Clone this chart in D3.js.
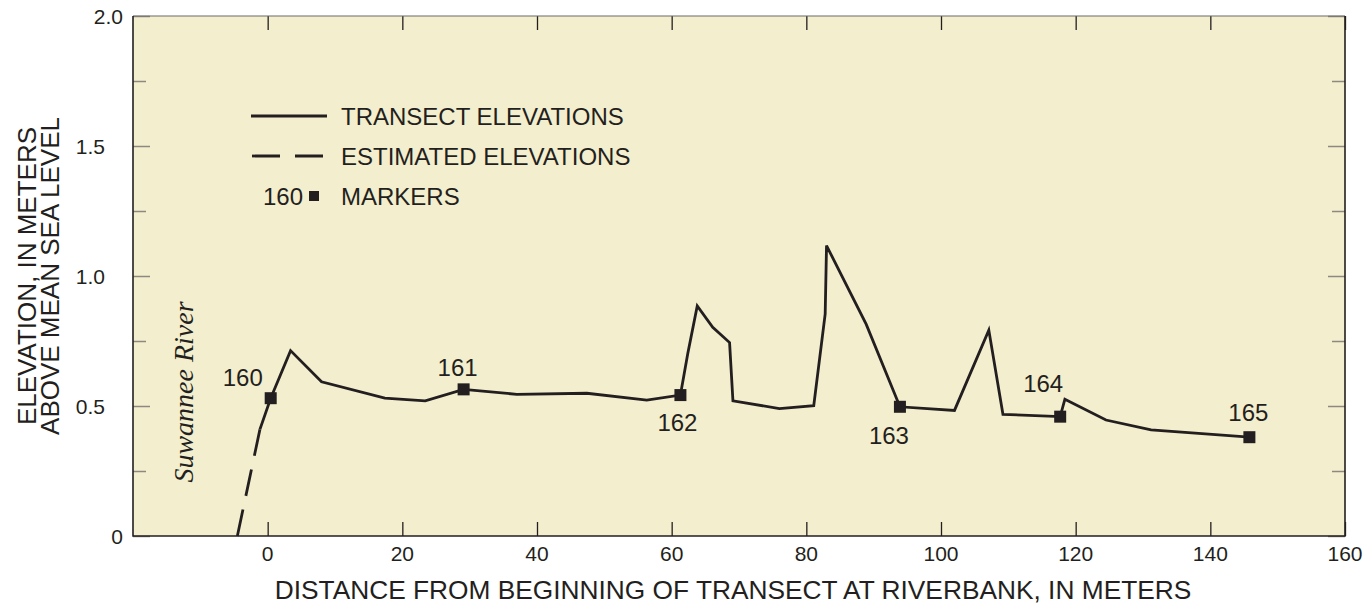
<!DOCTYPE html>
<html>
<head>
<meta charset="utf-8">
<script src="https://cdn.jsdelivr.net/npm/d3@7"></script>
<style>
  body { margin: 0; background: #fff; }
  text { font-family: "Liberation Sans", Arial, sans-serif; fill: #231f20; }
</style>
</head>
<body>
<div id="chart"></div>
<script>
// Data
const transectDistance = [-1.15, 0.45, 3.4, 8.0, 17.4, 23.4, 29.1, 37.0, 47.4, 56.3, 61.3, 62.4, 63.8, 66.1, 68.6, 69.1, 76.0, 81.1, 82.8, 83.0, 88.9, 93.9, 102.0, 107.1, 109.2, 117.7, 118.4, 124.5, 131.2, 145.8];
const transectElevation = [0.41, 0.53, 0.713, 0.593, 0.53, 0.52, 0.564, 0.545, 0.549, 0.523, 0.542, 0.703, 0.885, 0.803, 0.744, 0.52, 0.49, 0.501, 0.854, 1.117, 0.814, 0.497, 0.483, 0.792, 0.468, 0.459, 0.526, 0.446, 0.408, 0.38];

const estimatedDistance = [-4.5, -1.15];
const estimatedElevation = [0, 0.41];

const markerIds = ["160", "161", "162", "163", "164", "165"];
const markerDistance = [0.45, 29.1, 61.3, 93.9, 117.7, 145.8];
const markerElevation = [0.53, 0.564, 0.542, 0.497, 0.459, 0.38];

const xTicks = [0, 20, 40, 60, 80, 100, 120, 140, 160];
const yMajorTicks = [0, 0.5, 1.0, 1.5, 2.0];
const yMinorTicks = [0.25, 0.75, 1.25, 1.75];

// dimensions
const width = 1368;
const height = 606;
const margin = { top: 16, right: 23, bottom: 70, left: 133 };
const ink = "#231f20";

// label offsets around each marker (layout only)
const labelOffset = [[-28, -21], [-6, -22], [-3, 27], [-11, 29], [-17, -33], [-1, -25]];

const x = d3.scaleLinear().domain([-20, 160]).range([margin.left, width - margin.right]);
const y = d3.scaleLinear().domain([0, 2]).range([height - margin.bottom, margin.top]);

const svg = d3.select("#chart").append("svg")
  .attr("width", width)
  .attr("height", height);

// plot background
svg.append("rect")
  .attr("x", x(-20)).attr("y", y(2))
  .attr("width", x(160) - x(-20)).attr("height", y(0) - y(2))
  .attr("fill", "#f3eecd");

// ticks (inward, all four sides) via d3 axes
const tickColorY = "#8c8a80";
const axB = svg.append("g").attr("transform", `translate(0,${y(0)})`)
  .call(d3.axisTop(x).tickValues(xTicks).tickSize(14).tickFormat(""));
const axT = svg.append("g").attr("transform", `translate(0,${y(2)})`)
  .call(d3.axisBottom(x).tickValues(xTicks).tickSize(14).tickFormat(""));
const axL = svg.append("g").attr("transform", `translate(${x(-20)},0)`)
  .call(d3.axisRight(y).tickValues(yMajorTicks).tickSize(17).tickFormat(""));
const axLm = svg.append("g").attr("transform", `translate(${x(-20)},0)`)
  .call(d3.axisRight(y).tickValues(yMinorTicks).tickSize(13).tickFormat(""));
const axR = svg.append("g").attr("transform", `translate(${x(160)},0)`)
  .call(d3.axisLeft(y).tickValues(yMajorTicks).tickSize(17).tickFormat(""));
const axRm = svg.append("g").attr("transform", `translate(${x(160)},0)`)
  .call(d3.axisLeft(y).tickValues(yMinorTicks).tickSize(13).tickFormat(""));
[axB, axT, axL, axLm, axR, axRm].forEach(g => g.select(".domain").remove());
[axB, axT].forEach(g => g.selectAll(".tick line").attr("stroke", ink).attr("stroke-width", 1.3));
[axL, axLm, axR, axRm].forEach(g => g.selectAll(".tick line").attr("stroke", tickColorY).attr("stroke-width", 1.5));

// frame
svg.append("path")
  .attr("d", `M${x(-20)},${y(2)}H${x(160)}`)
  .attr("stroke", "#6d6b66").attr("stroke-width", 1.2).attr("fill", "none");
svg.append("path")
  .attr("d", `M${x(-20)},${y(2)}V${y(0)}H${x(160)}V${y(2)}`)
  .attr("stroke", ink).attr("stroke-width", 1.6).attr("fill", "none");

// tick labels
svg.append("g").selectAll("text")
  .data(xTicks)
  .join("text")
  .attr("x", d => x(d))
  .attr("y", y(0) + 25)
  .attr("text-anchor", "middle")
  .style("font-size", "21px")
  .text(d => d);

// end labels (0 and 2.0) sit closer to the frame than the inner ones
svg.append("g").selectAll("text")
  .data(yMajorTicks)
  .join("text")
  .attr("x", d => (d === 0 || d === 2) ? x(-20) - 10 : x(-20) - 28)
  .attr("y", d => y(d))
  .attr("dy", "0.36em")
  .attr("text-anchor", "end")
  .style("font-size", "21px")
  .text(d => d === 0 ? "0" : d.toFixed(1));

// axis titles
svg.append("text")
  .attr("x", 733)
  .attr("y", 599)
  .attr("text-anchor", "middle")
  .style("font-size", "26.3px")
  .text("DISTANCE FROM BEGINNING OF TRANSECT AT RIVERBANK, IN METERS");

const yTitle = svg.append("text")
  .attr("transform", `translate(0,${(y(0) + y(2)) / 2}) rotate(-90)`)
  .attr("text-anchor", "middle")
  .style("font-size", "26px");
yTitle.append("tspan").attr("x", 0).attr("y", 36).text("ELEVATION, IN METERS");
yTitle.append("tspan").attr("x", 0).attr("y", 59).text("ABOVE MEAN SEA LEVEL");

// river label
svg.append("text")
  .attr("transform", `translate(193,392) rotate(-90)`)
  .attr("text-anchor", "middle")
  .style("font-family", "'Liberation Serif', 'Times New Roman', serif")
  .style("font-style", "italic")
  .style("font-size", "28px")
  .text("Suwannee River");

// lines
const line = d3.line().x(d => x(d[0])).y(d => y(d[1]));

svg.append("path")
  .datum(d3.zip(estimatedDistance, estimatedElevation))
  .attr("d", line)
  .attr("fill", "none")
  .attr("stroke", ink)
  .attr("stroke-width", 2.8)
  .attr("stroke-dasharray", "27,14");

svg.append("path")
  .datum(d3.zip(transectDistance, transectElevation))
  .attr("d", line)
  .attr("fill", "none")
  .attr("stroke", ink)
  .attr("stroke-width", 2.8)
  .attr("stroke-linejoin", "miter");

// markers
const sq = 12;
const markers = svg.append("g").selectAll("g")
  .data(d3.range(markerIds.length))
  .join("g")
  .attr("transform", i => `translate(${x(markerDistance[i])},${y(markerElevation[i])})`);

markers.append("rect")
  .attr("x", -sq / 2).attr("y", -sq / 2)
  .attr("width", sq).attr("height", sq)
  .attr("fill", ink);

markers.append("text")
  .attr("x", i => labelOffset[i][0])
  .attr("y", i => labelOffset[i][1])
  .attr("dy", "0.36em")
  .attr("text-anchor", "middle")
  .style("font-size", "24px")
  .text(i => markerIds[i]);

// legend
const legend = svg.append("g");
legend.append("line")
  .attr("x1", 251).attr("x2", 327).attr("y1", 116).attr("y2", 116)
  .attr("stroke", ink).attr("stroke-width", 2.8);
legend.append("line")
  .attr("x1", 252).attr("x2", 323).attr("y1", 156).attr("y2", 156)
  .attr("stroke", ink).attr("stroke-width", 2.8)
  .attr("stroke-dasharray", "28,15");
legend.append("rect")
  .attr("x", 309).attr("y", 191).attr("width", 10).attr("height", 10)
  .attr("fill", ink);
legend.append("text")
  .attr("x", 303).attr("y", 196).attr("dy", "0.36em")
  .attr("text-anchor", "end")
  .style("font-size", "24px")
  .text("160");

const legendLabels = ["TRANSECT ELEVATIONS", "ESTIMATED ELEVATIONS", "MARKERS"];
legend.selectAll("text.lab")
  .data(legendLabels)
  .join("text")
  .attr("class", "lab")
  .attr("x", 341)
  .attr("y", (d, i) => 116 + i * 40)
  .attr("dy", "0.36em")
  .style("font-size", "24px")
  .text(d => d);
</script>
</body>
</html>
